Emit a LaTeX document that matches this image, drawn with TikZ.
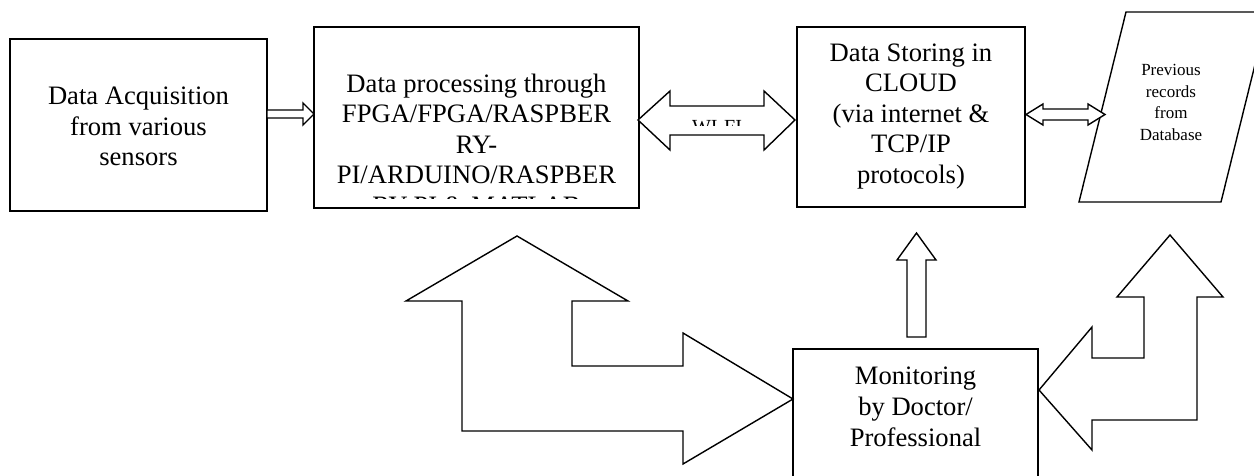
\documentclass[tikz,border=0pt]{standalone}
\usepackage{fontspec}
\setmainfont{Liberation Serif}
\begin{document}
\begin{tikzpicture}[x=1pt,y=-1pt,line width=1.4pt,line join=miter,
  box/.style={draw,rectangle,inner sep=0pt},
  txt/.style={align=center,inner sep=0pt,font=\fontsize{26.6pt}{30.6pt}\selectfont},
  smalltxt/.style={align=center,inner sep=0pt,font=\fontsize{17pt}{21.5pt}\selectfont},
  blockarrow/.style={draw,fill=white}]
\useasboundingbox (0,0) rectangle (1254,476);
\clip (0,0) rectangle (1254,476);
\fill[white] (0,0) rectangle (1254,476);

% boxes
\node[box,minimum width=257pt,minimum height=172pt] (acq) at (138.5,125) {};
\node[box,minimum width=325pt,minimum height=181pt] (proc) at (476.5,117.5) {};
\node[box,minimum width=228pt,minimum height=180pt] (cloud) at (911,117) {};
\node[box,minimum width=245pt,minimum height=141pt] (mon) at (915.5,419.5) {};
\draw (1079,202) -- (1126,12) -- (1268,12) -- (1221,202) -- cycle;
\coordinate (db) at (1171,107);

% texts (anchor=base is the baseline of the last line)
\node[txt,anchor=base] (acqtext) at (138.5,166) {Data Acquisition\\from various\\sensors};
\begin{scope}
\clip (314,27) rectangle (639,199);
\node[txt,anchor=base] (proctext) at (476.5,214.5) {Data processing through\\FPGA/FPGA/RASPBER\\RY-\\PI/ARDUINO/RASPBER\\RY-PI \& MATLAB};
\end{scope}
\node[txt,anchor=base] (cloudtext) at (911,183.5) {Data Storing in\\CLOUD\\(via internet \&\\TCP/IP\\protocols)};
\node[txt,anchor=base] (montext) at (915.5,446) {Monitoring\\by Doctor/\\Professional};
\node[smalltxt,anchor=base] (dbtext) at (1171,140.5) {Previous\\records\\from\\Database};

% arrow acq -> proc
\draw[blockarrow] (267,110) -- (303,110) -- (303,103) -- (314,114) -- (303,125) -- (303,118) -- (267,118) -- cycle;

% WI-FI double arrow proc <-> cloud
\draw[blockarrow] (638,120) -- (670,91) -- (670,106) -- (764,106) -- (764,91) -- (795,120)
  -- (764,150) -- (764,135) -- (670,135) -- (670,150) -- cycle;
\begin{scope}
\clip (670,100) rectangle (765,125.5);
\node[font=\fontsize{20pt}{24pt}\selectfont,anchor=base,inner sep=0pt] (wifi) at (717,134) {WI-FI};
\end{scope}

% cloud <-> database
\draw[blockarrow] (1026,114.5) -- (1043,104) -- (1043,109) -- (1088,109) -- (1088,104) -- (1105,114.5)
  -- (1088,125) -- (1088,120) -- (1043,120) -- (1043,125) -- cycle;

% monitoring -> cloud
\draw[blockarrow] (916.5,233) -- (936,260) -- (926,260) -- (926,337) -- (907,337) -- (907,260) -- (897,260) -- cycle;

% big bent arrow proc <-> monitoring
\draw[blockarrow] (517,236) -- (628,301) -- (572,301) -- (572,366) -- (683,366) -- (683,333)
  -- (793,399) -- (683,464) -- (683,431) -- (462,431) -- (462,301) -- (406,301) -- cycle;

% bent arrow database <-> monitoring
\draw[blockarrow] (1039,390) -- (1092,327) -- (1092,358) -- (1144,358) -- (1144,297) -- (1117,297)
  -- (1170,235) -- (1223,297) -- (1197,297) -- (1197,420) -- (1092,420) -- (1092,450) -- cycle;
\end{tikzpicture}
\end{document}
